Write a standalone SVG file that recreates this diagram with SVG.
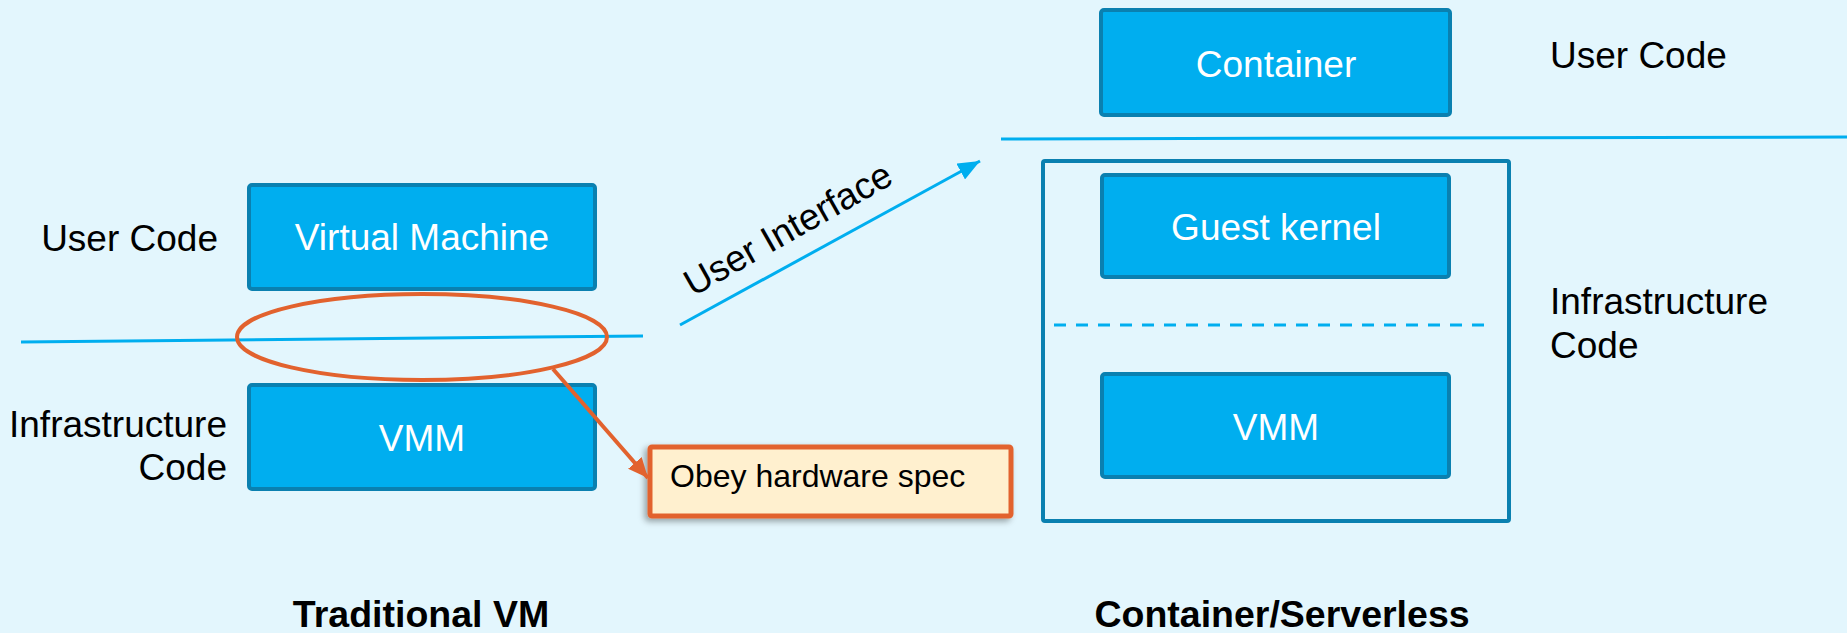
<svg xmlns="http://www.w3.org/2000/svg" width="1847" height="633" viewBox="0 0 1847 633">
  <style>
    .bg { fill: #E3F6FD; }
    .box { fill: #00AEEF; stroke: #0A80B0; stroke-width: 4; }
    .frame { fill: none; stroke: #0A80B0; stroke-width: 4; }
    .boxtext { font-family: "Liberation Sans", Arial, sans-serif; font-size: 37px; fill: #FFFFFF; text-anchor: middle; }
    .label { font-family: "Liberation Sans", Arial, sans-serif; font-size: 37px; fill: #000000; }
    .title { font-family: "Liberation Sans", Arial, sans-serif; font-size: 37.5px; font-weight: bold; fill: #000000; text-anchor: middle; }
    .divider { stroke: #00AEEF; stroke-width: 3; fill: none; }
    .dashed { stroke: #00AEEF; stroke-width: 3; stroke-dasharray: 12 10; fill: none; }
    .orange { stroke: #E2622E; stroke-width: 4; fill: none; }
    .note { fill: #FFF0CF; stroke: #E2622E; stroke-width: 5; }
    .notetext { font-family: "Liberation Sans", Arial, sans-serif; font-size: 32px; fill: #000000; }
  </style>
  <defs>
    <marker id="blueHead" markerUnits="userSpaceOnUse" markerWidth="24" markerHeight="18" refX="22" refY="9" orient="auto">
      <path d="M0,0 L22,9 L0,18 Z" fill="#00AEEF"/>
    </marker>
    <marker id="orangeHead" markerUnits="userSpaceOnUse" markerWidth="22" markerHeight="18" refX="20" refY="9" orient="auto">
      <path d="M0,0 L20,9 L0,18 Z" fill="#E2622E"/>
    </marker>
    <filter id="noteShadow" x="-10%" y="-20%" width="120%" height="150%">
      <feDropShadow dx="-3" dy="3" stdDeviation="3" flood-color="#000000" flood-opacity="0.35"/>
    </filter>
  </defs>

  <rect class="bg" x="0" y="0" width="1847" height="633"/>

  <!-- Left column: traditional VM stack -->
  <g id="label-left-user">
    <text class="label" x="218" y="251" text-anchor="end">User Code</text>
  </g>
  <g id="label-left-infra">
    <text class="label" x="227" y="437" text-anchor="end">Infrastructure</text>
    <text class="label" x="227" y="480" text-anchor="end">Code</text>
  </g>
  <g id="node-vm">
    <rect class="box" x="249" y="185" width="346" height="104" rx="3"/>
    <text class="boxtext" x="422" y="250">Virtual Machine</text>
  </g>
  <g id="node-vmm-left">
    <rect class="box" x="249" y="385" width="346" height="104" rx="3"/>
    <text class="boxtext" x="422" y="451">VMM</text>
  </g>
  <g id="node-note">
    <rect class="note" x="650" y="447" width="361" height="69" rx="2" filter="url(#noteShadow)"/>
    <text class="notetext" x="670" y="487">Obey hardware spec</text>
  </g>

  <!-- Right column: container / serverless stack -->
  <g id="node-sandbox">
    <rect class="frame" x="1043" y="161" width="466" height="360" rx="2"/>
  </g>
  <g id="node-container">
    <rect class="box" x="1101" y="10" width="349" height="105" rx="3"/>
    <text class="boxtext" x="1276" y="77">Container</text>
  </g>
  <g id="node-guest-kernel">
    <rect class="box" x="1102" y="175" width="347" height="102" rx="3"/>
    <text class="boxtext" x="1276" y="240">Guest kernel</text>
  </g>
  <g id="node-vmm-right">
    <rect class="box" x="1102" y="374" width="347" height="103" rx="3"/>
    <text class="boxtext" x="1276" y="440">VMM</text>
  </g>
  <g id="label-right-user">
    <text class="label" x="1550" y="68">User Code</text>
  </g>
  <g id="label-right-infra">
    <text class="label" x="1550" y="314">Infrastructure</text>
    <text class="label" x="1550" y="358">Code</text>
  </g>

  <!-- Column titles -->
  <g id="title-left">
    <text class="title" x="421" y="627">Traditional VM</text>
  </g>
  <g id="title-right">
    <text class="title" x="1282" y="627">Container/Serverless</text>
  </g>

  <!-- Connectors and boundary lines -->
  <g id="connectors">
    <line class="divider" x1="21" y1="342" x2="643" y2="336"/>
    <line class="divider" x1="1001" y1="139" x2="1847" y2="137"/>
    <line class="dashed" x1="1054" y1="325" x2="1493" y2="325"/>
    <ellipse class="orange" cx="422" cy="337" rx="185" ry="43"/>
    <line class="orange" x1="553" y1="369" x2="648" y2="478" marker-end="url(#orangeHead)"/>
    <line class="divider" x1="680" y1="325" x2="980" y2="161" marker-end="url(#blueHead)"/>
    <text class="label" x="0" y="0" font-size="39" transform="translate(693,297) rotate(-29.5)">User Interface</text>
  </g>
</svg>
